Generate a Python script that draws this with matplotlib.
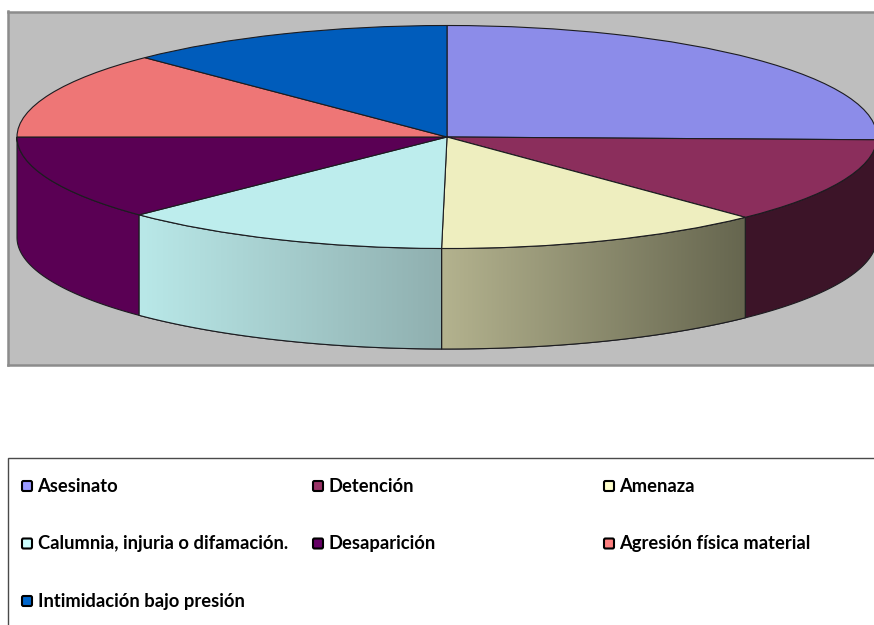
import numpy as np
import matplotlib
matplotlib.use('Agg')
import matplotlib.pyplot as plt
from matplotlib.patches import FancyBboxPatch, Polygon

plt.rcParams['font.family'] = ['Lato', 'DejaVu Sans']

categories = ['Asesinato', 'Detención', 'Amenaza', 'Calumnia, injuria o difamación.',
              'Desaparición', 'Agresión física material', 'Intimidación bajo presión']
values = [25.4, 12.4, 12.4, 12.5, 12.3, 12.6, 12.4]
top_colors = ['#8c8ce9', '#8b2e5c', '#eeeebf', '#bdeded', '#5a0054', '#ee7676', '#005cbb']
legend_colors = ['#9999ff', '#993366', '#ffffcc', '#ccffff', '#660066', '#ff8080', '#0066cc']
wall_left = ['#5a5a96', '#3c1428', '#b3b28e', '#b9e8e8', '#5a0054', '#ee7676', '#005cbb']
wall_right = ['#5a5a96', '#3c1428', '#66664f', '#90b0b0', '#5a0054', '#ee7676', '#005cbb']

W, H = 874, 625
cx, cy, rx, ry = 447, 137, 430, 111.5
depth = 100.5 / ry
edge = '#1c1c20'

fig = plt.figure(figsize=(W / 100, H / 100), dpi=100, facecolor='white')

# gray plot area, runs off the right side of the image
left, right, top, bottom = 8, 884, 11.5, 364.5
ax = fig.add_axes([left / W, 1 - bottom / H, (right - left) / W, (bottom - top) / H])
wedges, _ = ax.pie(values, colors=top_colors, startangle=90, counterclock=False, radius=1,
                   wedgeprops=dict(edgecolor=edge, linewidth=0.8, zorder=3))
ax.set_aspect('auto')
ax.set_frame_on(True)
ax.set_facecolor('#bebebe')
ax.set_xticks([])
ax.set_yticks([])
for s in ax.spines.values():
    s.set_color('#8c8c8c')
    s.set_linewidth(1.8)

# side walls of the disc
ends = 90 - np.cumsum(values) * 3.6
starts = np.concatenate([[90], ends[:-1]])
for i in range(len(values)):
    t0 = min(starts[i], 0)
    t1 = max(ends[i], -180)
    if t1 >= t0:
        continue
    t = np.radians(np.linspace(t0, t1, 80))
    x = np.cos(t)
    y = np.sin(t)
    pts = np.column_stack([np.r_[x, x[::-1]], np.r_[y, y[::-1] - depth]])
    poly = Polygon(pts, closed=True, facecolor=wall_left[i], edgecolor=edge, linewidth=0.8, zorder=1)
    ax.add_patch(poly)
    if wall_left[i] != wall_right[i]:
        a = np.array(matplotlib.colors.to_rgb(wall_left[i]))
        b = np.array(matplotlib.colors.to_rgb(wall_right[i]))
        ramp = np.linspace(0, 1, 64)[:, None]
        grad = (a + (b - a) * ramp)[None, :, :]
        im = ax.imshow(grad, extent=(x.min(), x.max(), (y - depth).min(), y.max()),
                       aspect='auto', zorder=2, interpolation='bilinear')
        im.set_clip_path(poly)
        outline = Polygon(pts, closed=True, facecolor='none', edgecolor=edge, linewidth=0.8, zorder=2.5)
        ax.add_patch(outline)
ax.set_xlim((left - cx) / rx, (right - cx) / rx)
ax.set_ylim((cy - bottom) / ry, (cy - top) / ry)

# legend, drawn by hand because the columns are evenly spaced
lg = fig.add_axes([0, 0, 1, 1], zorder=-1)
lg.set_xlim(0, W)
lg.set_ylim(H, 0)
lg.axis('off')
lg.plot([7.5, 7.5, W], [H, 457.5, 457.5], color='#4a4a4a', lw=1.0, solid_joinstyle='miter')

col_x = [21, 312, 603]
row_y = [486, 543.5, 601]
for i, name in enumerate(categories):
    xp = col_x[i % 3]
    yp = row_y[i // 3]
    lg.add_patch(FancyBboxPatch((xp + 1, yp - 5), 10, 10, boxstyle='round,pad=0,rounding_size=1.5',
                                facecolor=legend_colors[i], edgecolor='black', linewidth=1.5))
    lg.text(xp + 16.5, yp, name, fontsize=13.2, fontweight='bold', color='black',
            va='center', ha='left')

fig.savefig('out.png', dpi=100)
